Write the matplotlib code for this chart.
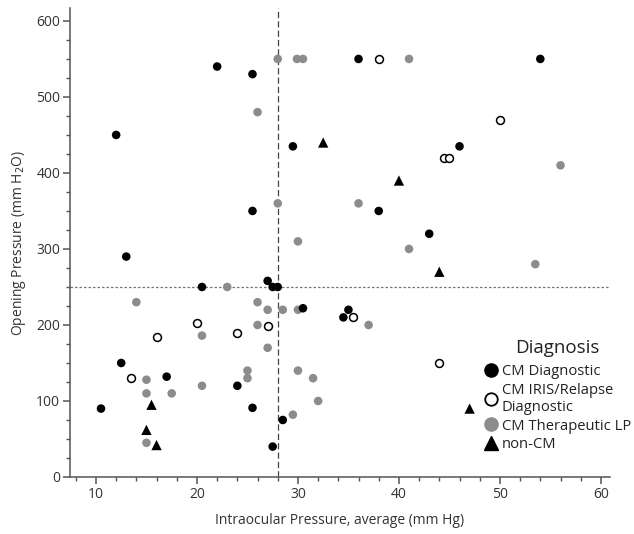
import matplotlib
matplotlib.use("Agg")
import matplotlib.pyplot as plt
from matplotlib.lines import Line2D

plt.rcParams['font.family'] = ['Open Sans', 'DejaVu Sans']

# CM Diagnostic (filled black circles)
diag_x = [22, 25.5, 12, 29.5, 25.5, 36, 54, 46, 38, 43, 35, 34.5, 13, 20.5, 27, 27.5, 28,
          30.5, 12.5, 17, 24, 25.5, 10.5, 28.5, 27.5]
diag_y = [540, 530, 450, 435, 350, 550, 550, 435, 350, 320, 220, 210, 290, 250, 258, 250, 250,
          222, 150, 132, 120, 91, 90, 75, 40]

# CM IRIS/Relapse Diagnostic (open circles)
iris_x = [38, 50, 44.5, 45, 35.5, 44, 20, 27, 16, 24, 13.5]
iris_y = [550, 470, 420, 420, 210, 150, 202, 198, 184, 190, 130]

# CM Therapeutic LP (gray circles)
ther_x = [28, 29.9, 30.5, 41, 26, 28, 30, 36, 56, 41, 53.5, 37, 23, 14, 26, 27, 28.5, 30, 26,
          20.5, 27, 25, 25, 30, 31.5, 32, 15, 15, 17.5, 20.5, 29.5, 15]
ther_y = [550, 550, 550, 550, 480, 360, 310, 360, 410, 300, 280, 200, 250, 230, 230, 220, 220, 220, 200,
          186, 170, 140, 130, 140, 130, 100, 128, 110, 110, 120, 82, 45]

# non-CM (triangles)
noncm_x = [32.5, 40, 44, 47, 15.5, 15, 16]
noncm_y = [440, 390, 270, 90, 95, 62, 42]

cut_x = 28
cut_y = 250

legend_labels = ["CM Diagnostic", "CM IRIS/Relapse\nDiagnostic", "CM Therapeutic LP", "non-CM"]
x_ticks = [10, 20, 30, 40, 50, 60]
y_ticks = [0, 100, 200, 300, 400, 500, 600]

W, H = 634, 534
fig = plt.figure(figsize=(W / 100, H / 100), dpi=100)
ax = fig.add_axes([70 / W, (H - 477) / H, 540 / W, 469 / H])

gray = '#8c8c8c'
ax.axvline(cut_x, color='#444444', lw=0.9, ls=(0, (5, 2.5)), zorder=1)
ax.axhline(cut_y, color='#777777', lw=0.9, ls=(0, (2, 1.6)), zorder=1)

ms = 38
ax.scatter(ther_x, ther_y, s=ms, c=gray, edgecolors='none', zorder=3)
ax.scatter(iris_x, iris_y, s=ms * 0.85, facecolors='white', edgecolors='black', linewidths=1.1, zorder=4)
ax.scatter(diag_x, diag_y, s=ms, c='black', edgecolors='none', zorder=5)
ax.scatter(noncm_x, noncm_y, s=55, c='black', marker='^', edgecolors='none', zorder=5)

ax.set_xlim(7.43, 60.9)
ax.set_ylim(0, 617)
ax.set_xticks(x_ticks)
ax.set_yticks(y_ticks)
ax.set_xticks([x for x in range(8, 61, 2) if x % 10 != 0], minor=True)
ax.set_yticks([y for y in range(25, 601, 25) if y % 100 != 0], minor=True)

for s in ['top', 'right']:
    ax.spines[s].set_visible(False)
for s in ['left', 'bottom']:
    ax.spines[s].set_color('#555555')
    ax.spines[s].set_linewidth(1.1)
ax.tick_params(which='major', direction='out', length=5, width=1.1, color='#555555',
               labelsize=10, labelcolor='#333333', pad=2)
ax.tick_params(which='minor', direction='out', length=3, width=1.0, color='#555555')

ax.set_xlabel("Intraocular Pressure, average (mm Hg)", fontsize=10, color='#333333', labelpad=8)
ax.set_ylabel("Opening Pressure (mm H$_2$O)", fontsize=10, color='#333333', labelpad=6)

handles = [
    Line2D([], [], ls='none', marker='o', ms=9.5, mfc='black', mec='black'),
    Line2D([], [], ls='none', marker='o', ms=9, mfc='white', mec='black', mew=1.3),
    Line2D([], [], ls='none', marker='o', ms=9.5, mfc=gray, mec=gray),
    Line2D([], [], ls='none', marker='^', ms=10.5, mfc='black', mec='black'),
]
leg = ax.legend(handles, legend_labels, title="Diagnosis", loc='upper left',
                bbox_to_anchor=(484 / W, 1 - 339 / H), bbox_transform=fig.transFigure,
                frameon=False, fontsize=10.6, title_fontsize=13.5, handlelength=0.9,
                handletextpad=0.3, labelspacing=0.25, borderpad=0, borderaxespad=0)
for t in leg.get_texts():
    t.set_color('#222222')
    t.set_linespacing(1.2)
leg.get_title().set_color('#222222')
leg._legend_box.sep = 5

fig.savefig("out.png", dpi=100)
